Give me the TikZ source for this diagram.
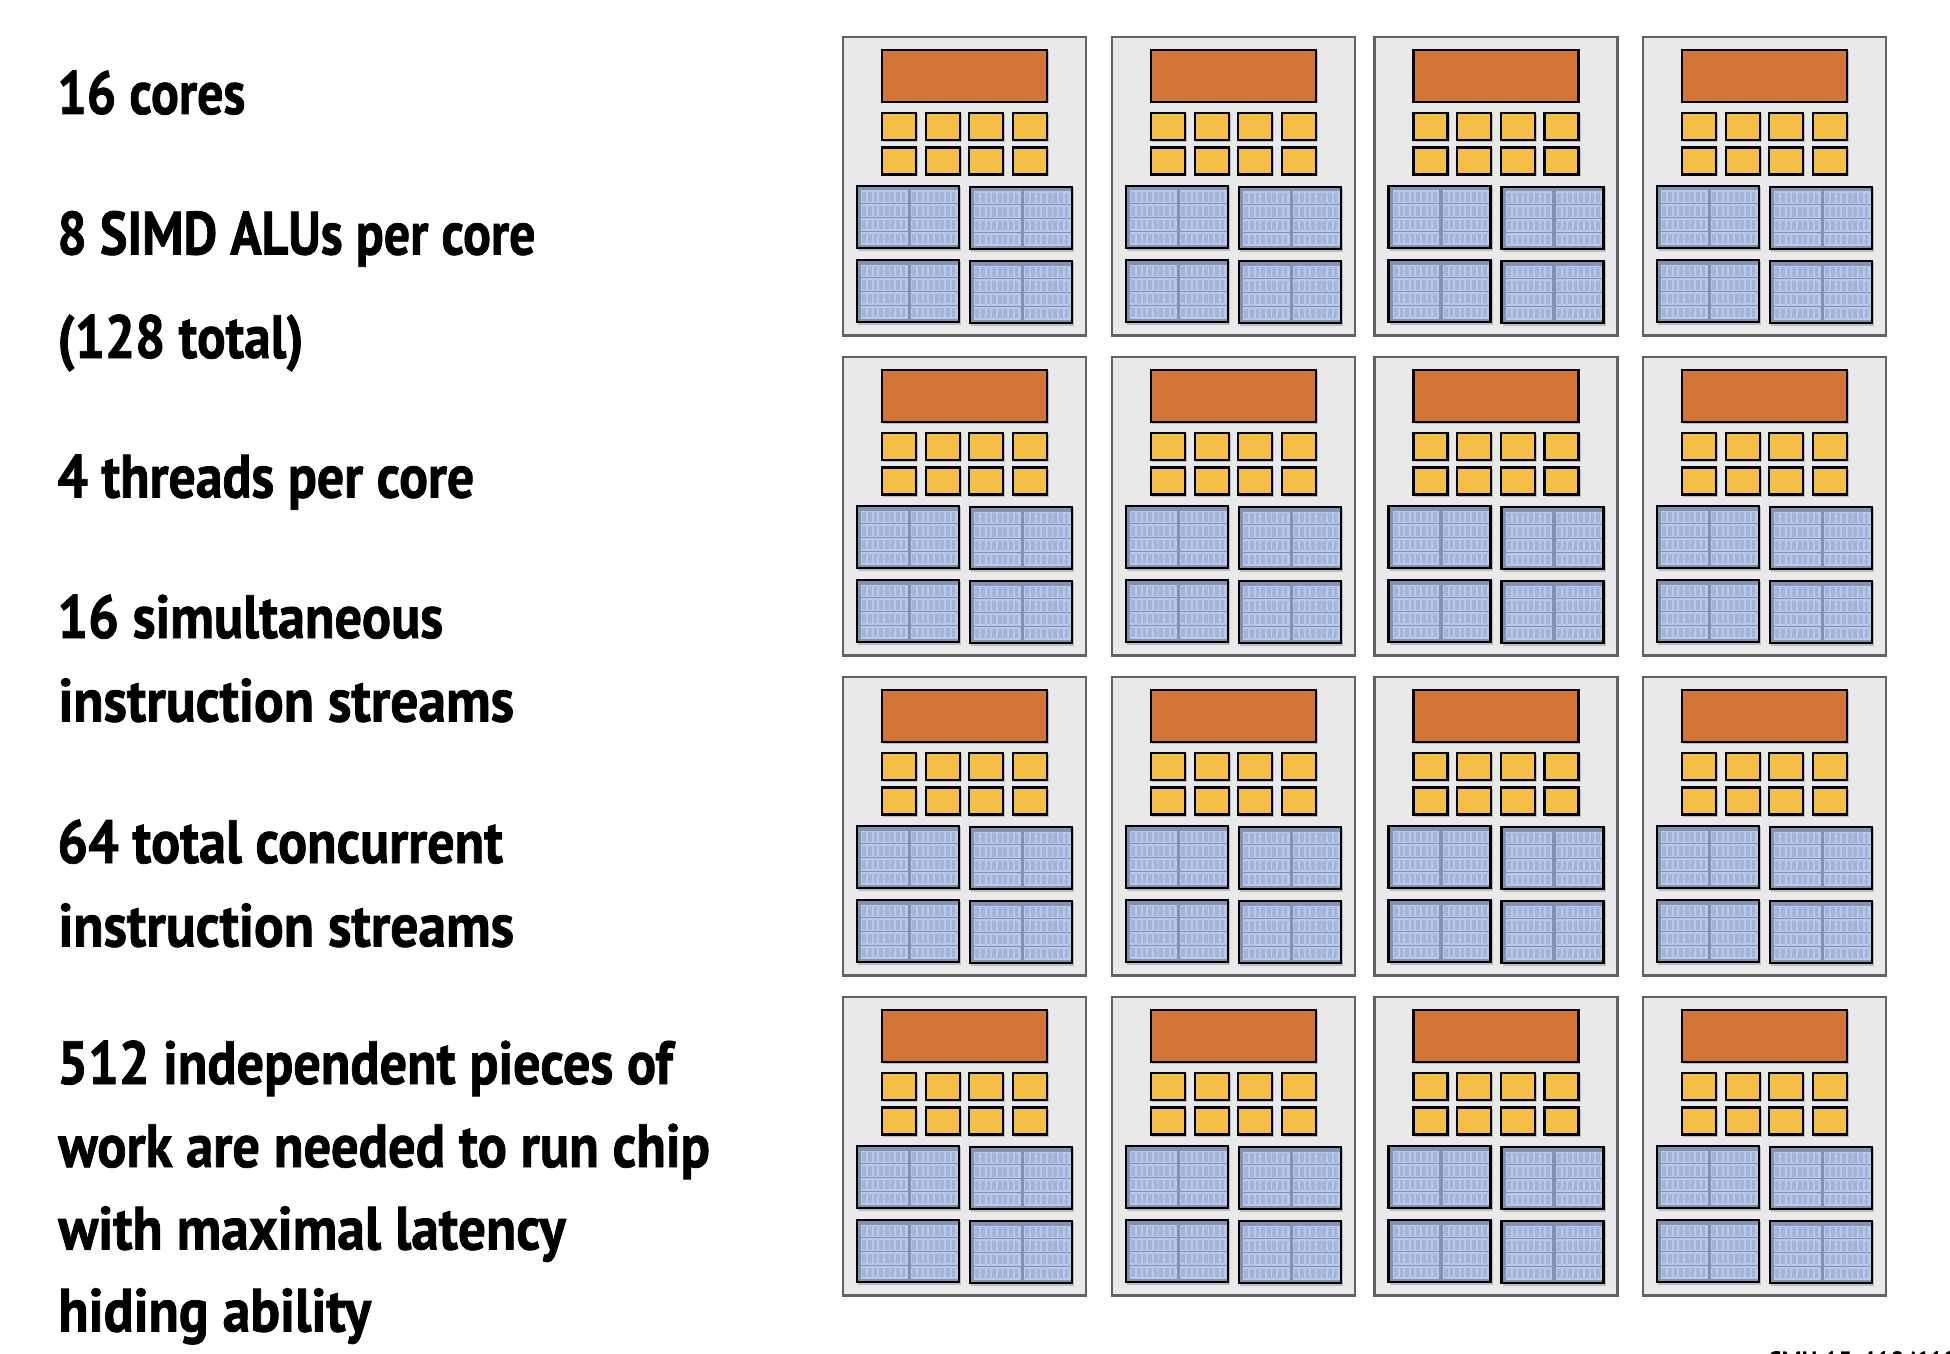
\documentclass[tikz,border=0pt]{standalone}
\usepackage{fontspec}
\setmainfont[FakeStretch=0.89,FakeBold=1.2]{PT Sans Bold}
\newfontfamily\footfont[FakeStretch=0.9]{PT Sans Bold}
\newcommand{\widthfit}[2]{\scalebox{#1}[1]{#2}}
\definecolor{coreface}{HTML}{E9E9E9}
\definecolor{coreline}{HTML}{626262}
\definecolor{fetchface}{HTML}{D37536}
\definecolor{ctxface}{HTML}{F5BE47}
\definecolor{blockface}{HTML}{8492B2}
\definecolor{panelface}{HTML}{B9C8EA}
\definecolor{cellface}{HTML}{A3B4DA}
\definecolor{shadowc}{HTML}{BDBDBD}
\tikzset{
  x=0.5pt,y=-0.5pt,
  corebox/.style={fill=coreface,draw=coreline,line width=1.05pt},
  fetchbox/.style={fill=fetchface,draw=black,line width=1.1pt},
  ctxbox/.style={fill=ctxface,draw=black,line width=1.1pt},
  blockbox/.style={fill=blockface,draw=black,line width=1.4pt},
  paneltext/.style={anchor=base west,inner sep=0pt,font=\fontsize{30.5pt}{30.5pt}\selectfont},
  alu/.pic={
    \fill[shadowc] (1,1) rectangle (104,65);
    \draw[blockbox] (0,0) rectangle (102,62);
    \foreach \px in {4,54}{
      \foreach \py in {4.5,18.4,32.3,46.2}{
        \fill[panelface] (\px,\py) rectangle ++(46.5,12.7);
        \foreach \c in {0,...,7}{
          \fill[cellface] ({\px+1.4+\c*5.6},\py+1.6) rectangle ++(3.7,9.5);
        }
      }
    }
  },
  corepic/.pic={
    \draw[corebox] (0,0) rectangle (243,298.5);
    \fill[shadowc] (40,14) rectangle (205.5,66.5);
    \draw[fetchbox] (39,13) rectangle (204,65);
    \foreach \cx in {39,82.7,126.3,170}{
      \foreach \cy in {76,110.5}{
        \fill[shadowc] (\cx+1,\cy+1) rectangle ++(35,28);
        \draw[ctxbox] (\cx,\cy) rectangle ++(34,27);
      }
    }
    \pic at (14,149) {alu};
    \pic at (127,150) {alu};
    \pic at (14,223) {alu};
    \pic at (127,224) {alu};
  }
}
\begin{document}
\begin{tikzpicture}
\useasboundingbox (0,0) rectangle (1950,1354);
\clip (0,0) rectangle (1950,1354);
\fill[white] (0,0) rectangle (1950,1354);
\foreach \ox in {843,1112,1374.5,1643}{
  \foreach \oy in {37,357,677,997}{
    \pic at (\ox,\oy) {corepic};
  }
}
\node[paneltext] (t1) at (57,114) {\widthfit{0.956}{16 cores}};
\node[paneltext] (t2) at (57,254.5) {\widthfit{0.955}{8 SIMD ALUs per core}};
\node[paneltext] (t3) at (57,358) {\widthfit{0.98}{(128 total)}};
\node[paneltext] (t4) at (57,497.5) {\widthfit{0.991}{4 threads per core}};
\node[paneltext] (t5) at (57,638) {16 simultaneous};
\node[paneltext] (t6) at (58,721.5) {\widthfit{1.022}{instruction streams}};
\node[paneltext] (t7) at (57,863) {\widthfit{0.997}{64 total concurrent}};
\node[paneltext] (t8) at (58,946.5) {\widthfit{1.022}{instruction streams}};
\node[paneltext] (t9) at (57,1084) {\widthfit{0.998}{512 independent pieces of}};
\node[paneltext] (t10) at (58,1167) {\widthfit{1.004}{work are needed to run chip}};
\node[paneltext] (t11) at (58,1249.5) {\widthfit{1.02}{with maximal latency}};
\node[paneltext] (t12) at (58,1331.5) {\widthfit{1.024}{hiding ability}};
\node[anchor=base west,inner sep=0pt,font=\footfont\fontsize{14pt}{14pt}\selectfont] (foot) at (1767,1371) {CMU 15-418/618,};
\end{tikzpicture}
\end{document}
